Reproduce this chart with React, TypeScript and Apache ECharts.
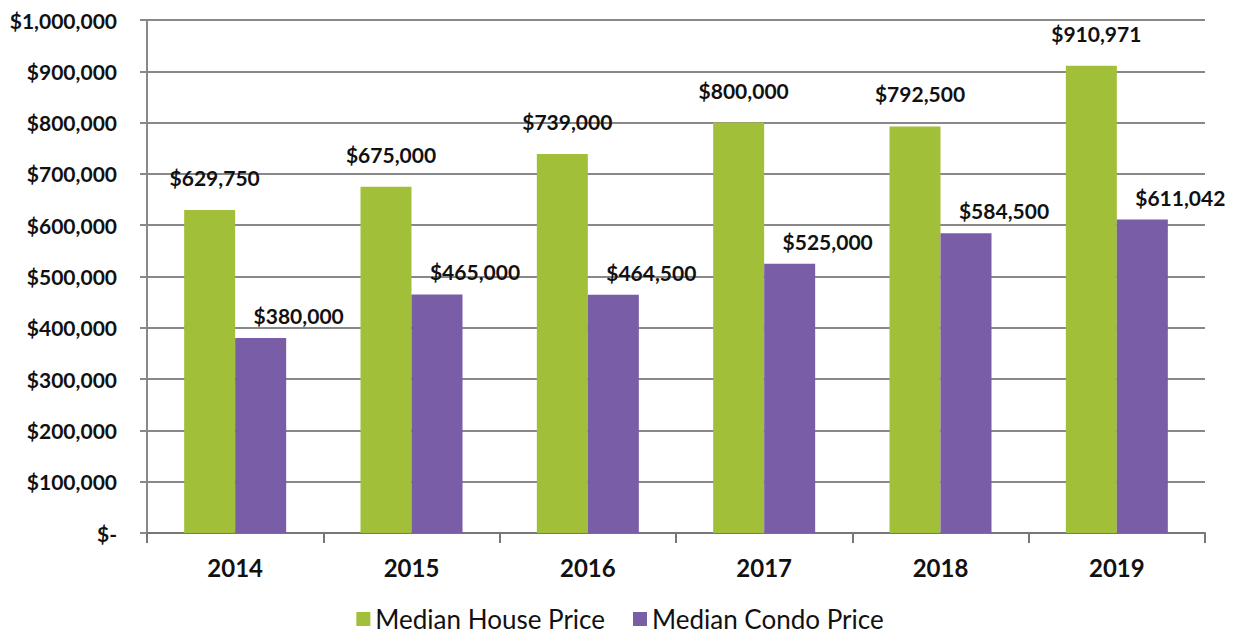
import React, { useEffect, useRef } from "react";
import * as echarts from "echarts";

const years = ["2014", "2015", "2016", "2017", "2018", "2019"];
const housePrices = [629750, 675000, 739000, 800000, 792500, 910971];
const condoPrices = [380000, 465000, 464500, 525000, 584500, 611042];
const seriesNames = ["Median House Price", "Median Condo Price"];

const fmt = (v: number) =>
  v === 0 ? "$-" : "$" + v.toLocaleString("en-US");

export default function App() {
  const ref = useRef<HTMLDivElement>(null);
  useEffect(() => {
    if (!ref.current) return;
    const chart = echarts.init(ref.current, null, { renderer: "svg" });
    const font = "Lato, 'Open Sans', sans-serif";
    chart.setOption({
      animation: false,
      textStyle: { fontFamily: font },
      grid: { left: 147, right: 35, top: 20, bottom: 104, containLabel: false },
      legend: {
        bottom: 0,
        left: "center",
        itemWidth: 14,
        itemHeight: 14,
        itemGap: 28,
        icon: "rect",
        textStyle: { fontSize: 26, color: "#111", fontFamily: font },
        data: seriesNames,
      },
      xAxis: {
        type: "category",
        data: years,
        axisLine: { lineStyle: { color: "#777", width: 2 } },
        axisTick: { show: true, length: 10, lineStyle: { color: "#777", width: 2 } },
        axisLabel: { fontSize: 24, fontWeight: "bold", color: "#111", margin: 22 },
      },
      yAxis: {
        type: "value",
        min: 0,
        max: 1000000,
        interval: 100000,
        axisLine: { show: true, lineStyle: { color: "#888", width: 2 } },
        axisTick: { show: true, length: 7, lineStyle: { color: "#888", width: 2 } },
        splitLine: { lineStyle: { color: "#888", width: 2 } },
        axisLabel: {
          fontSize: 21,
          fontWeight: "bold",
          color: "#111",
          margin: 30,
          formatter: (v: number) => fmt(v),
        },
      },
      series: [
        {
          name: seriesNames[0],
          type: "bar",
          data: housePrices,
          barWidth: 51,
          barGap: "0%",
          itemStyle: { color: "#a2bf3a" },
          label: {
            show: true,
            position: "top",
            distance: 22,
            offset: [5, 0],
            fontSize: 21,
            fontWeight: "bold",
            color: "#111",
            formatter: (p: any) => fmt(p.value),
          },
        },
        {
          name: seriesNames[1],
          type: "bar",
          data: condoPrices,
          barWidth: 51,
          itemStyle: { color: "#7a5da7" },
          label: {
            show: true,
            position: "top",
            distance: 12,
            offset: [38, 0],
            fontSize: 21,
            fontWeight: "bold",
            color: "#111",
            formatter: (p: any) => fmt(p.value),
          },
        },
      ],
    });
    return () => chart.dispose();
  }, []);
  return <div ref={ref} style={{ width: 1240, height: 637, position: "absolute", left: 0, top: 0, background: "#fff" }} />;
}
